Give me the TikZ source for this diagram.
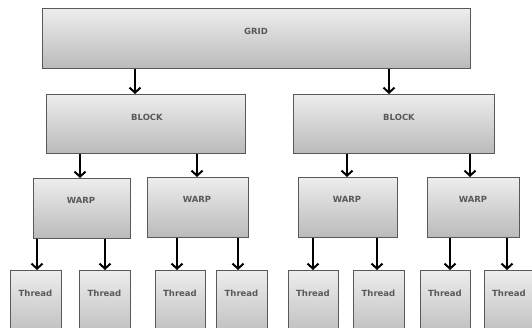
\documentclass[tikz,border=0pt]{standalone}
\usepackage{fontspec}
\setmainfont{DejaVu Sans}
\usetikzlibrary{arrows.meta,calc}
\begin{document}
\begin{tikzpicture}[x=1pt,y=-1pt,
  box/.style={draw=black!65, line width=1pt, top color=black!7, bottom color=black!27,
    rectangle, inner sep=0pt, anchor=north west},
  lbl/.style={text=black!65, font=\bfseries\fontsize{8.5}{9}\selectfont, inner sep=0pt},
  arr/.style={line width=2pt, -{Straight Barb[length=5pt,width=11pt,line width=2pt]}}]
\useasboundingbox (0,0) rectangle (532,328);
\clip (0,0) rectangle (532,328);
\newcommand{\bx}[5]{\node[box, minimum width=#4-#2, minimum height=#5-#3] (#1) at (#2,#3) {};}
% grid
\bx{grid}{42}{8}{470}{68}
\node[lbl] (tgrid) at (256,31) {GRID};
% blocks
\bx{bl}{46}{94}{245}{153}
\bx{br}{293}{94}{494}{153}
\node[lbl] (tbl) at (147,117) {BLOCK};
\node[lbl] (tbr) at (399,117) {BLOCK};
% warps
\bx{w1}{33}{178}{130}{238}
\bx{w2}{147}{177}{248}{237}
\bx{w3}{298}{177}{397}{237}
\bx{w4}{427}{177}{519}{237}
\node[lbl] (tw1) at (81,200) {WARP};
\node[lbl] (tw2) at (197,199) {WARP};
\node[lbl] (tw3) at (347,199) {WARP};
\node[lbl] (tw4) at (473,199) {WARP};
% threads
\bx{t1}{10}{270}{61}{340}
\bx{t2}{79}{270}{130}{340}
\bx{t3}{155}{270}{205}{340}
\bx{t4}{216}{270}{267}{340}
\bx{t5}{288}{270}{338}{340}
\bx{t6}{353}{270}{404}{340}
\bx{t7}{420}{270}{470}{340}
\bx{t8}{484}{270}{534}{340}
\foreach \n/\x in {t1/35.5,t2/104.5,t3/180,t4/241.5,t5/313,t6/378.5,t7/445,t8/509}
  \node[lbl] (l\n) at (\x,293) {Thread};
% arrows
\draw[arr] (grid.south -| 135,0) -- (bl.north -| 135,0);
\draw[arr] (grid.south -| 389,0) -- (br.north -| 389,0);
\draw[arr] (bl.south -| 80,0) -- (w1.north -| 80,0);
\draw[arr] (bl.south -| 197,0) -- (w2.north -| 197,0);
\draw[arr] (br.south -| 347,0) -- (w3.north -| 347,0);
\draw[arr] (br.south -| 470,0) -- (w4.north -| 470,0);
\draw[arr] (w1.south -| 37,0) -- (t1.north -| 37,0);
\draw[arr] (w1.south -| 105,0) -- (t2.north -| 105,0);
\draw[arr] (w2.south -| 177,0) -- (t3.north -| 177,0);
\draw[arr] (w2.south -| 238,0) -- (t4.north -| 238,0);
\draw[arr] (w3.south -| 313,0) -- (t5.north -| 313,0);
\draw[arr] (w3.south -| 377,0) -- (t6.north -| 377,0);
\draw[arr] (w4.south -| 450,0) -- (t7.north -| 450,0);
\draw[arr] (w4.south -| 507,0) -- (t8.north -| 507,0);
\end{tikzpicture}
\end{document}
